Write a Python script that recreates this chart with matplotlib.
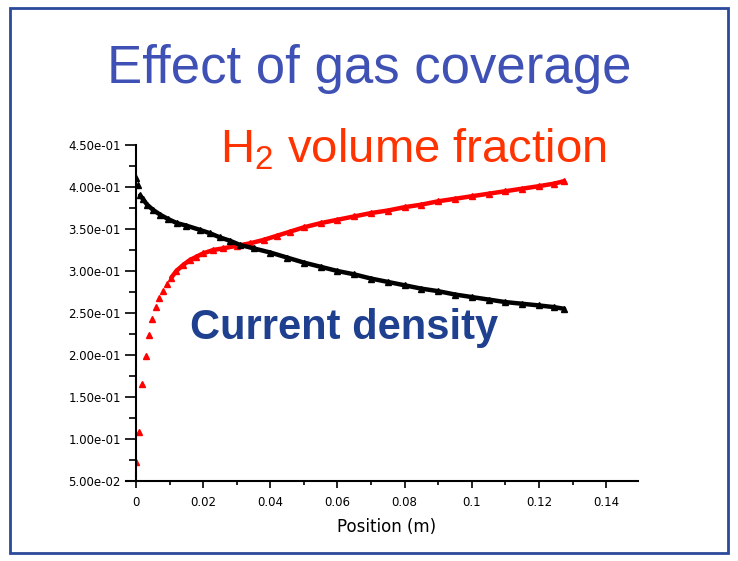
import numpy as np
import matplotlib
matplotlib.use('Agg')
import matplotlib.pyplot as plt
from matplotlib.patches import Rectangle
from matplotlib.ticker import MultipleLocator, FormatStrFormatter

plt.rcParams['font.family'] = ['Liberation Sans', 'DejaVu Sans']
plt.rcParams['mathtext.fontset'] = 'custom'
plt.rcParams['mathtext.rm'] = 'Liberation Sans'
plt.rcParams['mathtext.it'] = 'Liberation Sans'

# H2 volume fraction (red)
x_h2 = [0, 0.0009, 0.0018, 0.003, 0.0039, 0.0048, 0.006, 0.0069, 0.0081, 0.0093,
        0.0105, 0.012, 0.014, 0.016, 0.018, 0.02, 0.023, 0.026, 0.03, 0.034,
        0.038, 0.042, 0.046, 0.05, 0.055, 0.06, 0.065, 0.07, 0.075, 0.08,
        0.085, 0.09, 0.095, 0.1, 0.105, 0.11, 0.115, 0.12, 0.1245, 0.1275]
y_h2 = [0.0726, 0.108, 0.165, 0.199, 0.224, 0.243, 0.257, 0.268, 0.276, 0.285,
        0.292, 0.300, 0.307, 0.313, 0.317, 0.321, 0.325, 0.327, 0.330, 0.333,
        0.337, 0.342, 0.347, 0.352, 0.357, 0.361, 0.365, 0.369, 0.372, 0.376,
        0.379, 0.383, 0.386, 0.389, 0.392, 0.395, 0.398, 0.401, 0.404, 0.407]

# current density (black)
x_cd = [0, 0.0006, 0.0012, 0.002, 0.0033, 0.005, 0.0072, 0.0095, 0.0122, 0.015,
        0.019, 0.022, 0.025, 0.028, 0.031, 0.035, 0.04, 0.045, 0.05, 0.055,
        0.06, 0.065, 0.07, 0.075, 0.08, 0.085, 0.09, 0.095, 0.1, 0.105,
        0.11, 0.115, 0.12, 0.1245, 0.1275]
y_cd = [0.411, 0.402, 0.390, 0.386, 0.379, 0.373, 0.367, 0.362, 0.357, 0.354,
        0.349, 0.345, 0.340, 0.336, 0.331, 0.327, 0.322, 0.316, 0.310, 0.305,
        0.300, 0.296, 0.291, 0.287, 0.283, 0.279, 0.276, 0.272, 0.269, 0.266,
        0.263, 0.261, 0.259, 0.257, 0.255]

x_h2 = np.array(x_h2); y_h2 = np.array(y_h2)
x_cd = np.array(x_cd); y_cd = np.array(y_cd)

fig = plt.figure(figsize=(7.38, 5.61), dpi=100)
fig.patch.set_facecolor('white')

# slide frame
fig.patches.append(Rectangle((10/738, 8/561), 718/738, 545/561, transform=fig.transFigure,
                             fill=False, edgecolor='#2B4A9A', linewidth=2))

fig.text(0.5, 1-69/561, 'Effect of gas coverage', ha='center', va='center',
         fontsize=38, color='#3F51B5')

ax = fig.add_axes([136/738, 1-481/561, 502/738, 336/561])

# red: sparse markers near 0, dense band later
dense = x_h2 >= 0.0105
ax.plot(x_h2[dense], y_h2[dense], '-', color='red', lw=3.2, solid_capstyle='round')
ax.plot(x_h2, y_h2, '^', color='red', ms=4.5, mec='red')
dense = x_cd >= 0.0012
ax.plot(x_cd[dense], y_cd[dense], '-', color='black', lw=3.2, solid_capstyle='round')
ax.plot(x_cd, y_cd, '^', color='black', ms=4.5)

ax.set_xlim(0, 0.1495)
ax.set_ylim(0.05, 0.45)
ax.spines['top'].set_visible(False)
ax.spines['right'].set_visible(False)
ax.spines['left'].set_linewidth(1.5)
ax.spines['bottom'].set_linewidth(1.5)
ax.spines['bottom'].set_bounds(-0.003, 0.1495)

ax.xaxis.set_major_locator(MultipleLocator(0.02))
ax.xaxis.set_minor_locator(MultipleLocator(0.01))
ax.yaxis.set_major_locator(MultipleLocator(0.05))
ax.yaxis.set_minor_locator(MultipleLocator(0.025))
ax.yaxis.set_major_formatter(FormatStrFormatter('%.2e'))
ax.set_xticks([0, 0.02, 0.04, 0.06, 0.08, 0.1, 0.12, 0.14])
ax.set_xticklabels(['0', '0.02', '0.04', '0.06', '0.08', '0.1', '0.12', '0.14'])

for lab in ax.get_xticklabels() + ax.get_yticklabels():
    lab.set_fontfamily('DejaVu Sans')

ax.tick_params(axis='y', which='major', length=8, width=1.2, labelsize=8.5, direction='out', pad=3)
ax.tick_params(axis='y', which='minor', length=5, width=1.2, direction='out')
ax.tick_params(axis='x', which='major', length=5, width=1.2, labelsize=8.5, direction='out', pad=6)
ax.tick_params(axis='x', which='minor', length=3, width=1.2, direction='out')

ax.set_xlabel('Position (m)', fontsize=12, labelpad=6, fontfamily='DejaVu Sans')

fig.text(220/738, 1-150/561, 'H$_2$ volume fraction', ha='left', va='center',
         fontsize=34, color='#FF3300')
fig.text(190/738, 1-328/561, 'Current density', ha='left', va='center',
         fontsize=30, color='#1F3F8F', fontweight='bold')

fig.savefig('out.png', dpi=100)
